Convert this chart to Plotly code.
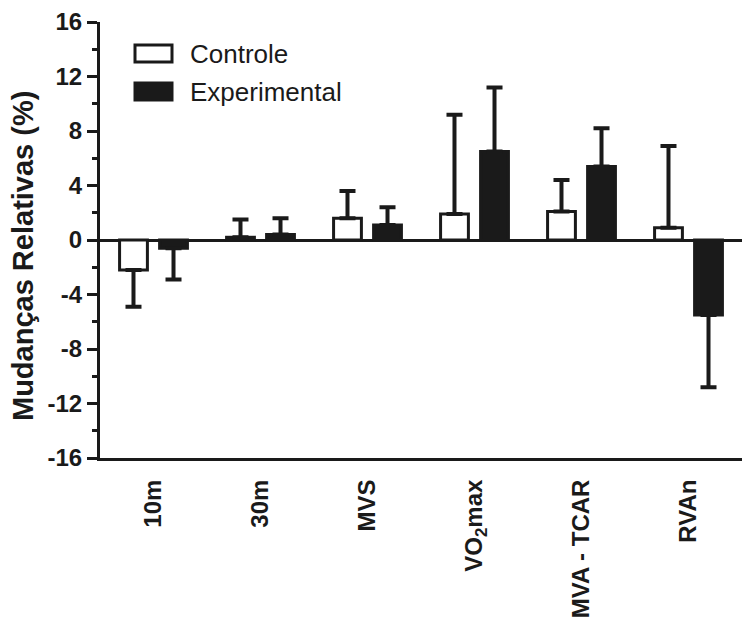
import plotly.graph_objects as go

categories = ["10m", "30m", "MVS", "VO<sub>2</sub>max", "MVA - TCAR", "RVAn"]
controle = [-2.2, 0.2, 1.6, 1.9, 2.1, 0.9]
controle_err = [2.7, 1.3, 2.0, 7.3, 2.3, 6.0]
experimental = [-0.6, 0.4, 1.1, 6.5, 5.4, -5.5]
experimental_err = [2.3, 1.2, 1.3, 4.7, 2.8, 5.3]
yticks = [-16, -12, -8, -4, 0, 4, 8, 12, 16]
y_title = "Mudanças Relativas (%)"

DARK = "#1a1a1a"
FONT = "Arial, Liberation Sans, sans-serif"


def split_err(vals, errs):
    up = [e if v >= 0 else 0 for v, e in zip(vals, errs)]
    down = [e if v < 0 else 0 for v, e in zip(vals, errs)]
    return up, down


c_up, c_down = split_err(controle, controle_err)
e_up, e_down = split_err(experimental, experimental_err)

fig = go.Figure()
fig.add_trace(go.Bar(
    name="Controle", x=categories, y=controle,
    marker=dict(color="white", line=dict(color=DARK, width=3)),
    error_y=dict(type="data", symmetric=False, array=c_up, arrayminus=c_down,
                 color=DARK, thickness=4, width=8),
))
fig.add_trace(go.Bar(
    name="Experimental", x=categories, y=experimental,
    marker=dict(color=DARK, line=dict(color=DARK, width=3)),
    error_y=dict(type="data", symmetric=False, array=e_up, arrayminus=e_down,
                 color=DARK, thickness=4, width=8),
))

# custom legend (paper coords)
W, H, L, T = 642.0, 436.0, 100.0, 22.0
def px(x): return (x - L) / W
def py(y): return (T + H - y) / H

fig.add_shape(type="rect", xref="paper", yref="paper",
              x0=px(135), x1=px(172), y0=py(62), y1=py(45),
              fillcolor="white", line=dict(color=DARK, width=3))
fig.add_shape(type="rect", xref="paper", yref="paper",
              x0=px(135), x1=px(172), y0=py(100), y1=py(83),
              fillcolor=DARK, line=dict(color=DARK, width=3))
fig.add_annotation(text="Controle", xref="paper", yref="paper",
                   x=px(188), y=py(53.5), xanchor="left", yanchor="middle",
                   showarrow=False, font=dict(family=FONT, size=26, color=DARK))
fig.add_annotation(text="Experimental", xref="paper", yref="paper",
                   x=px(188), y=py(92), xanchor="left", yanchor="middle",
                   showarrow=False, font=dict(family=FONT, size=26, color=DARK))
# y-axis title as rotated annotation
fig.add_annotation(text=y_title, xref="paper", yref="paper",
                   x=px(23), y=py(256), xanchor="center", yanchor="middle",
                   textangle=-90, showarrow=False,
                   font=dict(family=FONT, size=29, color=DARK, weight="bold"))

fig.update_layout(
    width=742, height=625,
    margin=dict(l=100, r=0, t=22, b=167),
    paper_bgcolor="white", plot_bgcolor="white",
    barmode="group", bargap=0.252, bargroupgap=0.305,
    showlegend=False,
    font=dict(family=FONT, color=DARK),
)
fig.update_xaxes(
    range=[-0.5, 5.5], showline=True, linecolor=DARK, linewidth=3,
    showgrid=False, zeroline=False, ticks="", tickangle=-90,
    tickfont=dict(family=FONT, size=24, color=DARK, weight="bold"),
    ticklabelstandoff=9,
)
fig.update_yaxes(
    range=[-16, 16], tickvals=yticks, ticktext=[str(v) for v in yticks],
    showline=True, linecolor=DARK, linewidth=3,
    showgrid=False, zeroline=True, zerolinecolor=DARK, zerolinewidth=3,
    ticks="outside", ticklen=10, tickwidth=3, tickcolor=DARK,
    minor=dict(tickvals=[-14, -10, -6, -2, 2, 6, 10, 14], ticks="outside",
               ticklen=5, tickwidth=3, tickcolor=DARK),
    tickfont=dict(family=FONT, size=24, color=DARK, weight="bold"),
)

fig.write_html("out.html")
